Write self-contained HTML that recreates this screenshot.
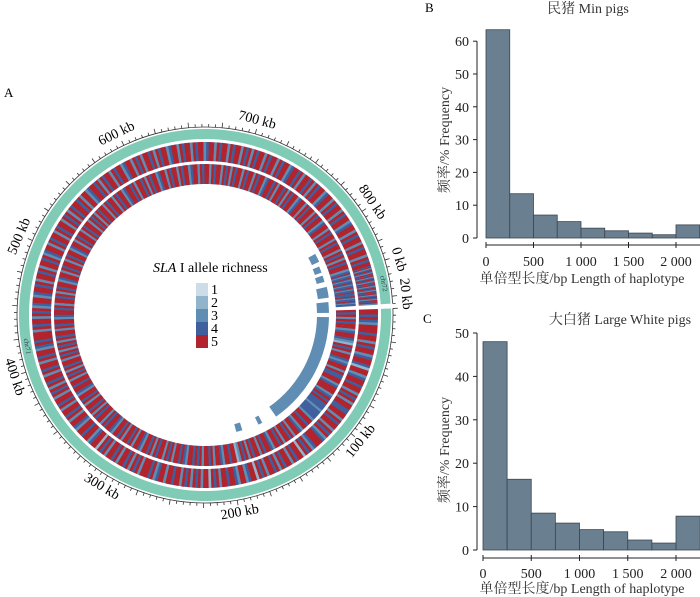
<!DOCTYPE html>
<html><head><meta charset="utf-8">
<style>
html,body{margin:0;padding:0;background:#fff;}
svg{display:block;font-family:"Liberation Serif","Noto Serif CJK SC",serif;}
</style></head>
<body>
<svg id="fig" width="700" height="597" viewBox="0 0 700 597" xmlns="http://www.w3.org/2000/svg">
  <text x="4" y="97" font-size="13">A</text>
  <text x="425" y="12" font-size="13">B</text>
  <text x="423" y="323" font-size="13">C</text>
  <g id="circos"></g>
  <g id="legend">
    <text x="153" y="272" font-size="14"><tspan font-style="italic">SLA</tspan> I allele richness</text>
  </g>
  <g id="histB"></g>
  <g id="histC"></g>
</svg>
<script>
// ---- histogram data ----
const binEdgesLabels = ["0","500","1 000","1 500","2 000"];
const tickValuesX = [0,500,1000,1500,2000];
const binStarts = [0,250,500,750,1000,1250,1500,1750,2000];
const freqMin = [63.5,13.5,7,5,3,2.2,1.5,1,4];
const freqLarge = [48,16.3,8.5,6.2,4.7,4.2,2.3,1.6,7.8];
const yTicksB = [0,10,20,30,40,50,60];
const yTicksC = [0,10,20,30,40,50];
// ---- circos data (richness class per stripe) ----
const ring1A = "5545435554553545534554255345545535453554455354553545345554354525545355453545535452554355345545535452553545354535545535543545553545354553545535452554355455345535455354553545354553545535455345";
const ring1B = "4555354553545345534554535545355453455354553545535453545545355345545354553545534553545355453545534553545535455345535455354553545354553545535455345545355453545534553545535455345535455354553545";
const ring2A = "5453545534554325453554345535445534555345454443444435545534553545535455345545355453545325545534553545535454553454553545355453545534553545535455345545355453545535455345545535453545535453545";
const ring2B = "3545535455345545355453545534553545535455345535455354553545354553545535455345545355453545534553545535455345535455354553545354553545535455345545355453545534553545535455345535455354553545354553";
const ring1Classes = (ring1A+ring1B).split("").map(Number);
const ring2Classes = (ring2A+ring2B).split("").map(Number);
const smallRing1 = "545345435453454354534543545345435453".split("").map(Number);
const smallRing2 = "445434454344543445434454445434454344".split("").map(Number);
const colors = ["#ffffff","#cddde7","#8fb4cc","#5f8db3","#3f5f9d","#b1232d"];
const legendClasses = [1,2,3,4,5];
const axisLabelsKb = [100,200,300,400,500,600,700,800];

const NS="http://www.w3.org/2000/svg";
function mk(tag,attrs,parent){const e=document.createElementNS(NS,tag);for(const k in attrs)e.setAttribute(k,attrs[k]);parent.appendChild(e);return e;}
const cx=205, cy=315;
const rad=d=>d*Math.PI/180;
function pt(r,a){return [cx+r*Math.cos(rad(a)),cy+r*Math.sin(rad(a))];}
function arc(r0,r1,a0,a1){
  const [x0,y0]=pt(r1,a0),[x1,y1]=pt(r1,a1),[x2,y2]=pt(r0,a1),[x3,y3]=pt(r0,a0);
  const lg=(a1-a0)>180?1:0;
  return `M${x0},${y0}A${r1},${r1} 0 ${lg} 1 ${x1},${y1}L${x2},${y2}A${r0},${r0} 0 ${lg} 0 ${x3},${y3}Z`;
}
const C=document.getElementById('circos');
const bigA0=-2, bigA1=343, degPerKb=0.41;
const smA0=-17, smA1=-3.5;
let e;
e=mk('path',{d:arc(176,186,bigA0,bigA1),fill:'#80cbb6'},C);


e=mk('path',{d:arc(176,186,smA0,smA1),fill:'#80cbb6'},C);


function ring(classes,a0,a1,r0,r1,name){
  const g=mk('g',{},C);
  
  
  const step=(a1-a0)/classes.length;
  classes.forEach((c,i)=>{
    const p=mk('path',{d:arc(r0,r1,a0+i*step,a0+(i+1)*step+0.1),fill:colors[c]},g);
    
    
  });
}
ring(ring1Classes,bigA0,bigA1,154,173,'heatmap-ring-outer');
ring(ring2Classes,bigA0,bigA1,131,151,'heatmap-ring-inner');
ring(smallRing1,smA0,smA1,154,173,'heatmap-ring-outer-small');
ring(smallRing2,smA0,smA1,131,151,'heatmap-ring-inner-small');
const innerBlocks=[[-29,-25,118,126],[-23,-20,117,124],[-18.5,-15.5,116,124],[-13,-8,114,125],[-6,-1,112,124],[1,55,112,124],[62,64,114,122],[72,75,113,121]];
innerBlocks.forEach(b=>{
  const p=mk('path',{d:arc(b[2],b[3],b[0],b[1]),fill:'#5f8db3'},C);
  
  
});
function ticks(a0,a1,n,name){
  const g=mk('g',{stroke:'#333','stroke-width':0.8,fill:'none'},C);
  
  
  const [sx,sy]=pt(188,a0),[ex,ey]=pt(188,a1);
  mk('path',{d:`M${sx},${sy}A188,188 0 ${(a1-a0)>180?1:0} 1 ${ex},${ey}`},g);
  for(let i=0;i<=n;i++){
    const a=a0+(a1-a0)*i/n;const big=i%5===0;
    const [x0,y0]=pt(188,a),[x1,y1]=pt(big?193:191,a);
    mk('line',{x1:x0,y1:y0,x2:x1,y2:y1},g);
  }
}
ticks(bigA0,bigA1,168,'axis-ticks-main');
ticks(smA0,smA1,6,'axis-ticks-small');
function label(txt,a,name){
  const [x,y]=pt(201,a);
  let na=((a%360)+360)%360;
  const rot=(na>0&&na<180)?na-90:na+90;
  const t=mk('text',{x:x,y:y,'font-size':14,'text-anchor':'middle','dominant-baseline':'middle',transform:`rotate(${rot} ${x} ${y})`},C);
  t.textContent=txt;
  
  
}
axisLabelsKb.forEach(k=>label(k+' kb',bigA0+k*degPerKb,'axis-label-'+k+'kb'));
label('0 kb',smA0+1,'axis-label-small-0kb');
label('20 kb',smA0+11,'axis-label-small-20kb');
(function(){
  let [x,y]=pt(181,-10);
  let t=mk('text',{x:x,y:y,'font-size':7,'text-anchor':'middle','dominant-baseline':'middle',transform:`rotate(80 ${x} ${y})`,fill:'#335'},C);
  t.textContent='chr72';
  
  
  [x,y]=pt(181,170);
  t=mk('text',{x:x,y:y,'font-size':7,'text-anchor':'middle','dominant-baseline':'middle',transform:`rotate(80 ${x} ${y})`,fill:'#335'},C);
  t.textContent='chr71';
  
  
})();
const L=document.getElementById('legend');
legendClasses.forEach((c,i)=>{
  const r=mk('rect',{x:196,y:283+i*13,width:12,height:13,fill:colors[c]},L);
  
  
  const t=mk('text',{x:211,y:294+i*13,'font-size':14},L);
  t.textContent=String(c);
  
  
});
function hist(gid,vals,yT,o){
  const g=document.getElementById(gid);
  const xs=v=>o.x0+v*o.kx, ys=v=>o.y0-v*o.ky;
  vals.forEach((v,i)=>{
    const r=mk('rect',{x:xs(binStarts[i]),y:ys(v),width:xs(binStarts[i]+250)-xs(binStarts[i]),height:o.y0-ys(v),fill:'#6a7f90',stroke:'#3a4650','stroke-width':0.8},g);
    
    
  });
  const ya=mk('g',{stroke:'#222','stroke-width':1},g);
  
  
  mk('line',{x1:477,y1:o.y0,x2:477,y2:ys(yT[yT.length-1])},ya);
  yT.forEach(v=>{
    mk('line',{x1:473,y1:ys(v),x2:477,y2:ys(v)},ya);
    const t=mk('text',{x:469,y:ys(v)+5,'font-size':14,'text-anchor':'end',stroke:'none',fill:'#222'},g);
    t.textContent=String(v);
    
    
  });
  const xa=mk('g',{stroke:'#222','stroke-width':1},g);
  
  
  mk('line',{x1:xs(0),y1:o.ax,x2:700,y2:o.ax},xa);
  tickValuesX.forEach((v,i)=>{
    mk('line',{x1:xs(v),y1:o.ax-3,x2:xs(v),y2:o.ax+3},xa);
    const t=mk('text',{x:xs(v),y:o.ax+o.tl,'font-size':14,'text-anchor':'middle',fill:'#222'},g);
    t.textContent=binEdgesLabels[i];
    
    
  });
  let t=mk('text',{x:582,y:o.ax+o.tt,'font-size':14,'text-anchor':'middle',fill:'#333'},g);
  t.textContent='单倍型长度/bp Length of haplotype';
  
  
  t=mk('text',{x:0,y:0,'font-size':14,'text-anchor':'middle',fill:'#333',transform:`translate(449 ${o.ylc}) rotate(-90)`},g);
  t.textContent='频率/% Frequency';
  
  
  t=mk('text',{x:o.tx,y:o.ty,'font-size':14,'text-anchor':'middle',fill:'#333'},g);
  t.textContent=o.title;
  
  
}
hist('histB',freqMin,yTicksB,{x0:486,kx:0.095,y0:238,ky:3.28,ax:245,tl:21,tt:38,ylc:140,tx:588,ty:13,title:'民猪  Min pigs'});
hist('histC',freqLarge,yTicksC,{x0:483,kx:0.0965,y0:550,ky:4.34,ax:558,tl:20,tt:35,ylc:450,tx:620,ty:324,title:'大白猪  Large White pigs'});
</script>
</body></html>
